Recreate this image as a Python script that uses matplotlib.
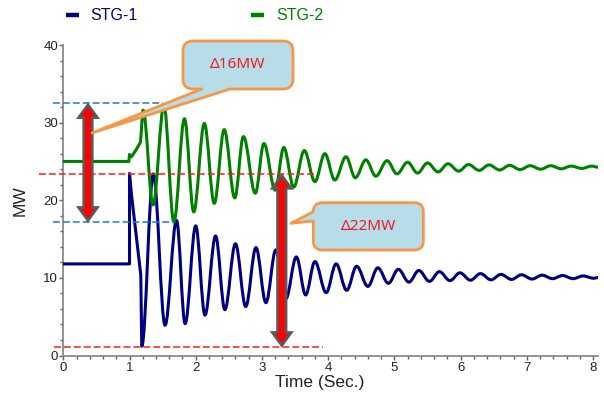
import matplotlib
matplotlib.use("Agg")
import matplotlib.pyplot as plt
from matplotlib.path import Path
from matplotlib.patches import PathPatch
from matplotlib.lines import Line2D
from matplotlib.ticker import MultipleLocator
from matplotlib.transforms import IdentityTransform

plt.rcParams['font.family'] = ['Liberation Sans', 'DejaVu Sans']

# ---------------- data ----------------
series_names = ["STG-1", "STG-2"]
series_colors = ["#000080", "#008000"]

# STG-1: straight lead-in part, then successive extrema (peaks / troughs)
stg1_lead_t = [0.0, 1.0, 1.0, 1.03, 1.17]
stg1_lead_v = [11.8, 11.8, 23.45, 20.7, 10.4]
stg1_ext_t = [1.185, 1.36, 1.537, 1.71, 1.84, 2.00, 2.14, 2.30, 2.44, 2.60,
              2.755, 2.91, 3.06, 3.21, 3.36, 3.52, 3.66, 3.80, 3.97, 4.12,
              4.28, 4.43, 4.60, 4.75, 4.91, 5.06, 5.22, 5.37, 5.53, 5.68,
              5.84, 5.99, 6.15, 6.30, 6.46, 6.61, 6.77, 6.92, 7.08, 7.23,
              7.39, 7.54, 7.70, 7.85, 8.01, 8.08]
stg1_ext_v = [1.2, 23.4, 3.9, 17.4, 4.1, 16.7, 5.2, 15.4, 5.9, 14.4,
              6.3, 13.9, 6.8, 13.6, 7.3, 12.7, 7.8, 12.1, 8.1, 11.8,
              8.4, 11.5, 8.9, 11.3, 9.3, 11.1, 9.45, 10.95, 9.55, 10.8,
              9.65, 10.65, 9.7, 10.55, 9.75, 10.45, 9.8, 10.4, 9.85, 10.35,
              9.9, 10.3, 9.9, 10.25, 9.95, 10.05]

# STG-2
stg2_lead_t = [0.0, 0.99, 1.0, 1.03, 1.10]
stg2_lead_v = [25.0, 25.0, 25.9, 25.6, 26.5]
stg2_ext_t = [1.16, 1.205, 1.355, 1.52, 1.67, 1.83, 1.97, 2.13, 2.28, 2.43,
              2.59, 2.72, 2.90, 3.03, 3.20, 3.33, 3.48, 3.64, 3.80, 3.95,
              4.10, 4.27, 4.41, 4.57, 4.72, 4.89, 5.04, 5.20, 5.35, 5.50,
              5.66, 5.81, 5.97, 6.12, 6.28, 6.43, 6.59, 6.74, 6.90, 7.05,
              7.21, 7.36, 7.52, 7.67, 7.83, 7.98, 8.08]
stg2_ext_v = [27.4, 31.6, 19.4, 32.2, 17.2, 30.5, 18.5, 29.9, 19.6, 29.1,
              20.3, 28.2, 20.9, 27.3, 21.3, 26.8, 21.7, 26.4, 22.4, 26.0,
              22.6, 25.6, 22.9, 25.2, 23.1, 25.1, 23.4, 24.9, 23.5, 24.8,
              23.65, 24.7, 23.75, 24.6, 23.85, 24.55, 23.9, 24.5, 23.95, 24.45,
              24.0, 24.45, 24.05, 24.4, 24.1, 24.4, 24.25]

# reference levels (MW) and annotations
blue_levels = [32.5, 17.2]
blue_ends = [1.50, 1.67]
red_levels = [23.4, 1.1]
red_ends = [3.78, 3.92]
arrow_times = [0.373, 3.30]
arrow_ranges = [(17.2, 32.5), (1.1, 23.4)]
callout_texts = ["\u039416MW", "\u039422MW"]

x_ticks = [0, 1, 2, 3, 4, 5, 6, 7, 8]
y_ticks = [0, 10, 20, 30, 40]

W, H = 604, 398
fig = plt.figure(figsize=(W / 100, H / 100), dpi=100)
ax = fig.add_axes([63.3 / W, 1 - 355.5 / H, 535 / W, 310.5 / H])
ax.set_xlim(0, 8.08)
ax.set_ylim(0, 40)


def wave_path(lead_t, lead_v, ext_t, ext_v, k=0.36):
    verts = list(zip(lead_t, lead_v))
    codes = [Path.MOVETO] + [Path.LINETO] * (len(verts) - 1)
    verts.append((ext_t[0], ext_v[0]))
    codes.append(Path.LINETO)
    for i in range(1, len(ext_t)):
        t0, v0 = ext_t[i - 1], ext_v[i - 1]
        t1, v1 = ext_t[i], ext_v[i]
        dt = t1 - t0
        verts += [(t0 + k * dt, v0), (t1 - k * dt, v1), (t1, v1)]
        codes += [Path.CURVE4] * 3
    return Path(verts, codes)


for lt, lv, et, ev, c in [(stg1_lead_t, stg1_lead_v, stg1_ext_t, stg1_ext_v, series_colors[0]),
                          (stg2_lead_t, stg2_lead_v, stg2_ext_t, stg2_ext_v, series_colors[1])]:
    ax.add_patch(PathPatch(wave_path(lt, lv, et, ev), fill=False, edgecolor=c,
                           lw=2.2, capstyle='round', joinstyle='round', zorder=3))

# dashed reference lines
for lvl, xe in zip(blue_levels, blue_ends):
    ax.plot([-0.16, xe], [lvl, lvl], color='#1f7ad0', lw=1.1,
            linestyle=(0, (4.5, 2)), clip_on=False, zorder=4)
for lvl, xe, xs in zip(red_levels, red_ends, [-0.36, -0.14]):
    ax.plot([xs, xe], [lvl, lvl], color='#ff1a1a', lw=1.1,
            linestyle=(0, (4.5, 2)), clip_on=False, zorder=4)


# double-headed fat arrows
def double_arrow(t, v0, v1):
    x, yb = ax.transData.transform((t, v0))
    _, yt = ax.transData.transform((t, v1))
    yb += 1.5
    yt -= 1.5
    hw, sw, hl = 9.5, 4.3, 13.0
    pts = [(x, yb), (x + hw, yb + hl), (x + sw, yb + hl), (x + sw, yt - hl),
           (x + hw, yt - hl), (x, yt), (x - hw, yt - hl), (x - sw, yt - hl),
           (x - sw, yb + hl), (x - hw, yb + hl), (x, yb)]
    codes = [Path.MOVETO] + [Path.LINETO] * (len(pts) - 2) + [Path.CLOSEPOLY]
    ax.add_artist(PathPatch(Path(pts, codes), facecolor='#ff0000',
                            edgecolor='#5a5a5a', lw=1.9, joinstyle='miter',
                            transform=IdentityTransform(), zorder=5))


for t, (v0, v1) in zip(arrow_times, arrow_ranges):
    double_arrow(t, v0, v1)


# callouts (image-pixel geometry, y downward)
def callout(box, r, side, a, b, tip, text):
    x0, y0, x1, y1 = box
    P = lambda x, y: (x, H - y)
    v = [P(x0 + r, y0), P(x1 - r, y0), P(x1, y0), P(x1, y0 + r),
         P(x1, y1 - r), P(x1, y1), P(x1 - r, y1)]
    c = [Path.MOVETO, Path.LINETO, Path.CURVE3, Path.CURVE3,
         Path.LINETO, Path.CURVE3, Path.CURVE3]
    if side == 'bottom':
        v += [P(b, y1), P(*tip), P(a, y1)]
        c += [Path.LINETO] * 3
    v += [P(x0 + r, y1), P(x0, y1), P(x0, y1 - r)]
    c += [Path.LINETO, Path.CURVE3, Path.CURVE3]
    if side == 'left':
        v += [P(x0, b), P(*tip), P(x0, a)]
        c += [Path.LINETO] * 3
    v += [P(x0, y0 + r), P(x0, y0), P(x0 + r, y0), P(x0 + r, y0)]
    c += [Path.LINETO, Path.CURVE3, Path.CURVE3, Path.CLOSEPOLY]
    fig.add_artist(PathPatch(Path(v, c), facecolor='#b7dde8', edgecolor='#f79646',
                             lw=2.0, joinstyle='round',
                             transform=IdentityTransform(), zorder=6))
    fig.text((x0 + x1) / 2 / W, 1 - (y0 + y1) / 2 / H, text, color='#ee1c24',
             fontsize=11, family=['Noto Sans', 'DejaVu Sans'],
             ha='center', va='center', zorder=7)


callout((183, 41, 293, 89), 10, 'bottom', 202, 230, (92, 133), callout_texts[0])
callout((313.3, 202.7, 423.3, 250), 9, 'left', 211.7, 221, (291, 223.3), callout_texts[1])

# axes styling
for s in ['top', 'right']:
    ax.spines[s].set_visible(False)
for s in ['left', 'bottom']:
    ax.spines[s].set_color('#808080')
    ax.spines[s].set_linewidth(1.2)
ax.set_xticks(x_ticks)
ax.set_yticks(y_ticks)
ax.xaxis.set_minor_locator(MultipleLocator(0.2))
ax.yaxis.set_minor_locator(MultipleLocator(2))
ax.tick_params(which='major', length=3.2, width=1.0, color='#606060',
               labelsize=9.5, labelcolor='#222222')
ax.tick_params(which='minor', length=2.0, width=1.0, color='#606060')
ax.tick_params(axis='y', which='major', pad=0.5)
ax.tick_params(axis='x', which='major', pad=1.5)

ax.set_xlabel("Time (Sec.)", fontsize=12.5, color='#222222')
ax.set_ylabel("MW", fontsize=12.5, color='#222222')
ax.xaxis.set_label_coords(0.479, -0.062)
ax.yaxis.set_label_coords(-0.066, 0.5)

handles = [Line2D([], [], color=c, lw=3.2, solid_capstyle='butt') for c in series_colors]
leg = fig.legend(handles, series_names, loc='center left',
                 bbox_to_anchor=(66 / W, 1 - 16 / H), bbox_transform=fig.transFigure,
                 ncol=2, frameon=False, fontsize=11.5, handlelength=0.8,
                 handletextpad=0.75, columnspacing=7.1, borderpad=0, borderaxespad=0)
for txt, c in zip(leg.get_texts(), series_colors):
    txt.set_color(c)

fig.savefig("out.png", dpi=100)
